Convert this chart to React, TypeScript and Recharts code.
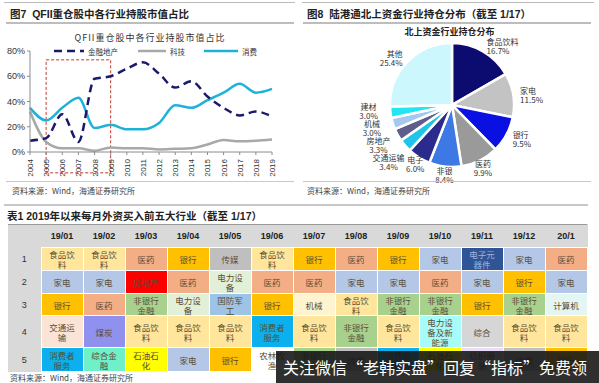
import { LineChart, Line, XAxis, YAxis, ReferenceArea, PieChart, Pie, Cell } from "recharts";

// Fig 7: QFII holdings share by sector
const years = ["2004", "2005", "2006", "2007", "2008", "2009", "2010", "2011", "2012", "2013", "2014", "2015", "2016", "2017", "2018", "2019"];
const financeRe = [9, 11, 30, 8, 58, 60, 66, 71, 62, 51, 56, 44, 35, 29, 32, 28];
const tech = [32, 8, 3, 3, 1, 3.5, 3, 3, 2, 2.5, 3, 6, 9.5, 8.5, 9, 10];
const consumer = [35, 25, 35, 43, 19, 21.5, 18, 18, 23, 37, 35, 41, 47, 54, 47, 50];
const yTicks = [0, 10, 20, 30, 40, 50, 60, 70, 80];

// Fig 8: northbound holdings distribution
const sectors = ["食品饮料", "家电", "银行", "医药", "非银", "电子", "交通运输", "房地产", "机械", "建材", "其他"];
const shares = [16.7, 11.5, 9.5, 9.9, 8.4, 6.0, 3.4, 3.3, 3.0, 3.0, 25.4];
const pieColors = ["#0c0c70", "#c3c3c3", "#0a10e2", "#9a9a9a", "#3d78e4", "#2b2b8e", "#20c4e6", "#5e5e8c", "#a6c8ef", "#22e6f2", "#ccf7fc"];

// Table 1: top 5 sectors bought by foreign capital each month
const months = ["19/01", "19/02", "19/03", "19/04", "19/05", "19/06", "19/07", "19/08", "19/09", "19/10", "19/11", "19/12", "20/1"];
const rank1 = ["食品饮料", "食品饮料", "医药", "银行", "传媒", "食品饮料", "银行", "医药", "银行", "家电", "电子元器件", "家电", "医药"];
const rank2 = ["家电", "家电", "房地产", "医药", "电力设备", "医药", "医药", "家电", "家电", "医药", "家电", "银行", "家电"];
const rank3 = ["银行", "医药", "非银行金融", "电力设备", "国防军工", "银行", "机械", "食品饮料", "非银行金融", "非银行金融", "银行", "非银行金融", "计算机"];
const rank4 = ["交通运输", "煤炭", "食品饮料", "食品饮料", "食品饮料", "消费者服务", "食品饮料", "非银行金融", "食品饮料", "电力设备及新能源", "综合", "食品饮料", "食品饮料"];
const rank5 = ["消费者服务", "综合金融", "石油石化", "家电", "银行", "农林牧渔", "非银行金融", "传媒", "消费者服务", "石油石化", "纺织服装", "传媒", "银行"];
const ranks = [rank1, rank2, rank3, rank4, rank5];

const cellColors: Record<string, string> = {
  食品饮料: "#ffe69c",
  医药: "#f4ae86",
  银行: "#ffc000",
  传媒: "#bfbfbf",
  家电: "#b4c7e7",
  电子元器件: "#2f5597",
  房地产: "#ff0000",
  电力设备: "#e2f0d9",
  非银行金融: "#a9d18e",
  国防军工: "#9dc3e6",
  机械: "#fff4d0",
  计算机: "#e4f6f4",
  交通运输: "#fbe3d6",
  煤炭: "#9090ee",
  消费者服务: "#0cb0ee",
  电力设备及新能源: "#a8fbfb",
  综合: "#d6d6d6",
  综合金融: "#70f0c8",
  石油石化: "#ffff00",
  农林牧渔: "#ffffff",
  纺织服装: "#e8dcf6",
};

const FONT = '"Liberation Sans", "Noto Sans CJK SC", sans-serif';
const CJK = '"Noto Sans CJK SC", sans-serif';

function YearTick(props: any) {
  const { x, y, payload } = props;
  return (
    <g transform={`translate(${x},${y + 2})`}>
      <text transform="rotate(-90)" textAnchor="end" dy={3} fontSize={8} fill="#333" fontFamily={FONT}>
        {payload.value}
      </text>
    </g>
  );
}

// small slices get pushed further out (and spread vertically) like Excel's best-fit labels
function PieLabel(props: any) {
  const { cx, cy, midAngle, outerRadius, index } = props;
  const rad = Math.PI / 180;
  const cos = Math.cos(-midAngle * rad);
  const sin = Math.sin(-midAngle * rad);
  let x: number;
  let y: number;
  let anchor: string;
  if (shares[index] < 5) {
    x = cx + (outerRadius + 22) * cos;
    y = cy + (outerRadius + 32) * sin - 6;
    anchor = "middle";
  } else {
    x = cx + (outerRadius + 7) * cos;
    y = cy + (outerRadius + 7) * sin;
    const lim = sin > 0 ? 0.6 : 0.3;
    anchor = Math.abs(cos) < lim ? "middle" : cos > 0 ? "start" : "end";
  }
  return (
    <text x={x} y={y} textAnchor={anchor} fontSize={8} fill="#333" fontFamily={CJK}>
      <tspan x={x} dy={0}>{sectors[index]}</tspan>
      <tspan x={x} dy={9}>{shares[index].toFixed(1)}%</tspan>
    </text>
  );
}

const hr = (left: number, top: number, width: number, h: number, color: string) => (
  <div style={{ position: "absolute", left, top, width, height: h, background: color }} />
);

export default function App() {
  const lineData = years.map((y, i) => ({ year: y, finance: financeRe[i], tech: tech[i], consumer: consumer[i] }));
  const pieData = sectors.map((s, i) => ({ name: s, value: shares[i] }));
  const rowHeights = [23, 23, 22, 32, 24];

  return (
    <div style={{ position: "absolute", left: 0, top: 0, width: 599, height: 383, background: "#fff", overflow: "hidden", fontFamily: FONT }}>
      {/* left panel */}
      {hr(4, 2, 291, 1, "#bbb")}
      <div style={{ position: "absolute", left: 10, top: 6, fontSize: 10.5, fontWeight: "bold", color: "#222", whiteSpace: "nowrap" }}>
        图7&nbsp;&nbsp;QFII重仓股中各行业持股市值占比
      </div>
      {hr(6, 22, 288, 2, "#bdbdbd")}
      <div style={{ position: "absolute", left: 0, width: 300, top: 31, textAlign: "center", fontSize: 9, color: "#333", fontFamily: CJK, letterSpacing: 1 }}>
        QFII重仓股中各行业持股市值占比
      </div>
      <div style={{ position: "absolute", left: 54, top: 45, height: 12, display: "flex", alignItems: "center", fontSize: 7.5, color: "#333", fontFamily: CJK }}>
        <svg width={30} height={6}><line x1={0} y1={3} x2={30} y2={3} stroke="#1a1a6c" strokeWidth={2.5} strokeDasharray="8 5" /></svg>
        <span style={{ marginLeft: 4, width: 50 }}>金融地产</span>
        <svg width={28} height={6}><line x1={0} y1={3} x2={28} y2={3} stroke="#a8a8a8" strokeWidth={2.5} /></svg>
        <span style={{ marginLeft: 4, width: 34 }}>科技</span>
        <svg width={34} height={6}><line x1={0} y1={3} x2={34} y2={3} stroke="#1fb2d8" strokeWidth={2.5} /></svg>
        <span style={{ marginLeft: 4 }}>消费</span>
      </div>
      <div style={{ position: "absolute", left: 0, top: 0 }}>
        <LineChart width={290} height={180} data={lineData} margin={{ top: 51, right: 18, bottom: 0, left: 2 }}>
          <XAxis
            dataKey="year"
            height={28}
            interval={0}
            tick={<YearTick />}
            tickSize={3}
            stroke="#8c8c8c"
          />
          <YAxis
            domain={[0, 80]}
            ticks={yTicks}
            width={28}
            tickSize={3}
            stroke="#8c8c8c"
            tickFormatter={(v: number) => `${v}%`}
            tick={{ fontSize: 9, fill: "#333", fontFamily: FONT }}
          />
          <ReferenceArea
            x1="2005"
            x2="2009"
            y1={-16.5}
            y2={73}
            ifOverflow="visible"
            fill="none"
            fillOpacity={0}
            stroke="#c0392b"
            strokeDasharray="3 2"
            strokeWidth={1}
          />
          <Line type="monotone" dataKey="tech" stroke="#a8a8a8" strokeWidth={2.5} dot={false} isAnimationActive={false} />
          <Line type="monotone" dataKey="consumer" stroke="#1fb2d8" strokeWidth={2.5} dot={false} isAnimationActive={false} />
          <Line type="monotone" dataKey="finance" stroke="#1a1a6c" strokeWidth={2.5} strokeDasharray="8 5" dot={false} isAnimationActive={false} />
        </LineChart>
      </div>
      {hr(6, 181, 288, 1, "#c8c8c8")}
      <div style={{ position: "absolute", left: 12, top: 185, fontSize: 8, color: "#444", fontFamily: CJK }}>资料来源：Wind，海通证券研究所</div>

      {/* right panel */}
      {hr(302, 2, 292, 1, "#bbb")}
      <div style={{ position: "absolute", left: 307, top: 6, fontSize: 10.5, fontWeight: "bold", color: "#222", whiteSpace: "nowrap" }}>
        图8&nbsp;&nbsp;陆港通北上资金行业持仓分布（截至 1/17）
      </div>
      {hr(303, 22, 288, 2, "#bdbdbd")}
      <div style={{ position: "absolute", left: 300, width: 299, top: 25, textAlign: "center", fontSize: 9, fontWeight: "bold", color: "#222", fontFamily: CJK }}>
        北上资金行业持仓分布
      </div>
      <div style={{ position: "absolute", left: 300, top: 0 }}>
        <PieChart width={299} height={192}>
          <Pie
            data={pieData}
            dataKey="value"
            cx={147}
            cy={100}
            outerRadius={62}
            startAngle={90}
            endAngle={-270}
            stroke="#fff"
            strokeWidth={2.5}
            label={PieLabel}
            labelLine={false}
            isAnimationActive={false}
          >
            {pieData.map((d, i) => (
              <Cell key={d.name} fill={pieColors[i]} />
            ))}
          </Pie>
        </PieChart>
      </div>
      {hr(303, 181, 288, 1, "#c8c8c8")}
      <div style={{ position: "absolute", left: 307, top: 185, fontSize: 8, color: "#444", fontFamily: CJK }}>资料来源：Wind，海通证券研究所</div>

      {/* table */}
      {hr(4, 204, 584, 2, "#c8c8c8")}
      <div style={{ position: "absolute", left: 7, top: 208, fontSize: 10.5, fontWeight: "bold", color: "#222", whiteSpace: "nowrap" }}>
        表1&nbsp;2019年以来每月外资买入前五大行业（截至 1/17）
      </div>
      <table
        style={{
          position: "absolute",
          left: 8,
          top: 224,
          width: 579,
          tableLayout: "fixed",
          borderCollapse: "collapse",
          background: "#d9d9d9",
          borderTop: "1px solid #9a9a9a",
        }}
      >
        <colgroup>
          <col style={{ width: 33 }} />
          {months.map((m) => (
            <col key={m} style={{ width: 42 }} />
          ))}
        </colgroup>
        <tbody>
          <tr style={{ height: 23 }}>
            <td />
            {months.map((m) => (
              <td key={m} style={{ textAlign: "center", fontSize: 9, fontWeight: "bold", color: "#222", padding: 0 }}>
                {m}
              </td>
            ))}
          </tr>
          {ranks.map((row, ri) => (
            <tr key={ri} style={{ height: rowHeights[ri] }}>
              <td style={{ textAlign: "center", fontSize: 9, color: "#333", padding: 0 }}>{ri + 1}</td>
              {row.map((name, ci) => (
                <td
                  key={ci}
                  style={{
                    background: cellColors[name] || "#fff",
                    border: "1px solid #fff",
                    textAlign: "center",
                    fontSize: 8.5,
                    lineHeight: "10px",
                    color: name === "电子元器件" ? "#9fb3de" : "#5a4d34",
                    padding: "0 4px",
                    fontFamily: CJK,
                    wordBreak: "break-all",
                  }}
                >
                  {name}
                </td>
              ))}
            </tr>
          ))}
        </tbody>
      </table>
      <div style={{ position: "absolute", left: 10, top: 372, fontSize: 8, color: "#444", fontFamily: CJK }}>资料来源：Wind，海通证券研究所</div>

      {/* overlay banner */}
      <div
        style={{
          position: "absolute",
          left: 276,
          top: 351,
          width: 323,
          height: 32,
          background: "rgba(24,24,24,0.9)",
          color: "#fff",
          fontSize: 16,
          lineHeight: "32px",
          paddingLeft: 7,
          boxSizing: "border-box",
          fontFamily: CJK,
          whiteSpace: "nowrap",
        }}
      >
        关注微信“老韩实盘”回复“指标”免费领
      </div>
    </div>
  );
}
